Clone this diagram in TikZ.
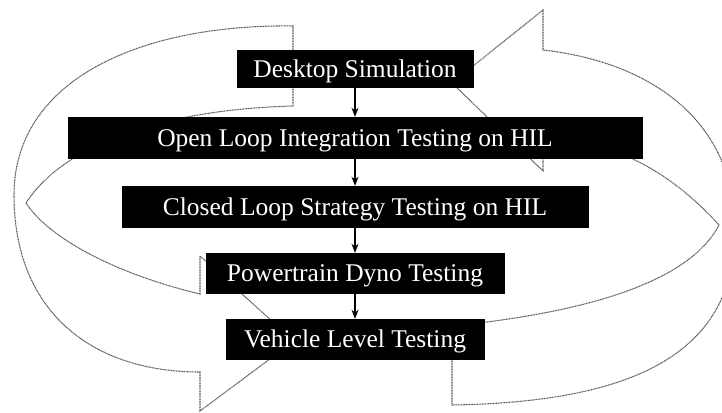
\documentclass[tikz,border=0pt]{standalone}
\usepackage{fontspec}
\setmainfont{Liberation Serif}
\usetikzlibrary{arrows.meta}
\tikzset{
  stage/.style={fill=black, text=white, inner sep=0pt,
    font=\fontsize{25.5}{28}\selectfont, text height=16.9pt, text depth=0pt},
  flow/.style={-{Stealth[length=9pt,width=7pt]}, line width=1.1pt, black},
  ribbon/.style={draw=black!68, line width=1.05pt, dash pattern=on 1pt off 0.6pt, line join=miter},
}
\begin{document}
\begin{tikzpicture}[x=1pt,y=-1pt]
\clip (0,0) rectangle (722,412);

% left ribbon arrow: tail at the top, sweeping round the left, head pointing right
\draw[ribbon] (293,106) -- (293,26)
  .. controls (140,24) and (14,80) .. (14,195)
  .. controls (14,310) and (90,372) .. (200,372)
  -- (200,411) -- (294,341) -- (200,256) -- (200,294)
  .. controls (120,275) and (50,240) .. (26,203)
  .. controls (60,150) and (150,110) .. (293,106) -- cycle;

% right ribbon arrow: tail at the bottom, sweeping round the right, head pointing left
\draw[ribbon] (452,326) -- (452,405)
  .. controls (640,402) and (735,350) .. (735,230)
  .. controls (735,120) and (650,62) .. (543,50)
  -- (543,10) -- (452,83) -- (543,171) -- (543,138)
  .. controls (600,140) and (660,160) .. (719,225)
  .. controls (685,290) and (560,315) .. (452,326) -- cycle;

% process stages
\node[stage, minimum width=237pt, minimum height=38pt] (desk) at (355,69)  {Desktop Simulation};
\node[stage, minimum width=575pt, minimum height=42pt] (open) at (355,138) {Open Loop Integration Testing on HIL};
\node[stage, minimum width=467pt, minimum height=42pt] (closed) at (355,207) {Closed Loop Strategy Testing on HIL};
\node[stage, minimum width=299pt, minimum height=41pt] (dyno) at (355,273.5) {Powertrain Dyno Testing};
\node[stage, minimum width=259pt, minimum height=41pt] (veh) at (355,339.5) {Vehicle Level Testing};

% flow between stages
\draw[flow] (desk.south) -- (open.north);
\draw[flow] (open.south) -- (closed.north);
\draw[flow] (closed.south) -- (dyno.north);
\draw[flow] (dyno.south) -- (veh.north);
\end{tikzpicture}
\end{document}
